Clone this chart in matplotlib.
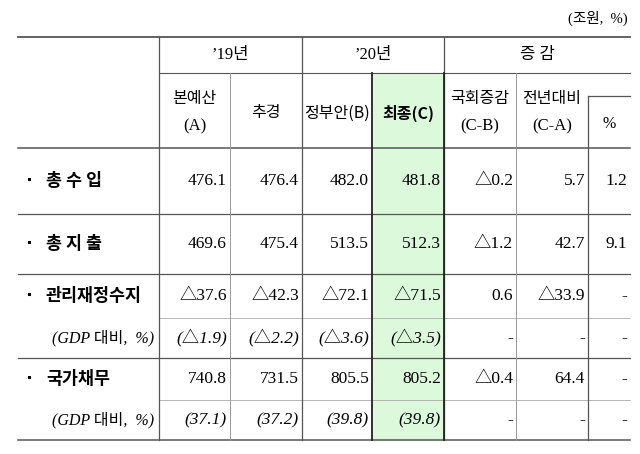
import matplotlib
matplotlib.use("Agg")
import matplotlib.pyplot as plt

row_labels = ["총 수 입", "총 지 출", "관리재정수지", "(GDP 대비,  %)", "국가채무", "(GDP 대비,  %)"]
bold_rows = [True, True, True, False, True, False]
col_headers = [("본예산", "(A)"), ("추경", ""), ("정부안(B)", ""), ("최종(C)", ""),
               ("국회증감", "(C-B)"), ("전년대비", "(C-A)"), ("%", "")]
group_headers = ["’19년", "’20년", "증 감"]
values = [
    ["476.1", "476.4", "482.0", "481.8", "△0.2", "5.7", "1.2"],
    ["469.6", "475.4", "513.5", "512.3", "△1.2", "42.7", "9.1"],
    ["△37.6", "△42.3", "△72.1", "△71.5", "0.6", "△33.9", "-"],
    ["(△1.9)", "(△2.2)", "(△3.6)", "(△3.5)", "-", "-", "-"],
    ["740.8", "731.5", "805.5", "805.2", "△0.4", "64.4", "-"],
    ["(37.1)", "(37.2)", "(39.8)", "(39.8)", "-", "-", "-"],
]
unit = "(조원,  %)"

FAM = ["Liberation Serif", "Noto Sans CJK KR", "DejaVu Sans"]
KFAM = ["Noto Sans CJK KR", "DejaVu Sans"]

fig = plt.figure(figsize=(6.4, 4.54), dpi=100)
ax = fig.add_axes([0, 0, 1, 1])
ax.set_xlim(0, 640); ax.set_ylim(454, 0); ax.axis("off")

xs = [159, 230, 302, 372, 444, 516, 588, 630]
left = 18
top, mid, hb = 37, 73, 148
row_edges = [148, 214, 274, 318, 358, 400, 440]

ax.axvspan(xs[3], xs[4], ymin=1 - row_edges[-1] / 454, ymax=1 - mid / 454, color="#dcfadb", zorder=0)

lc = "#555555"
ax.plot([left, 630], [top, top], color=lc, lw=1.3)
ax.plot([xs[0], 630], [mid, mid], color=lc, lw=0.8)
for i, y in enumerate(row_edges):
    if i in (3, 5):
        ax.plot([xs[0], 630], [y, y], color="#aaaaaa", lw=0.6)
    else:
        ax.plot([left, 630], [y, y], color=lc, lw=1.1 if i in (0, 6) else 0.9)
ax.plot([xs[0], xs[0]], [top, row_edges[-1]], color=lc, lw=0.9)
ax.plot([xs[2], xs[2]], [top, row_edges[-1]], color=lc, lw=0.9)
ax.plot([xs[4], xs[4]], [top, row_edges[-1]], color=lc, lw=0.9)
for x in (xs[1], xs[5]):
    ax.plot([x, x], [mid, row_edges[-1]], color="#999999", lw=0.7)
ax.plot([xs[6], xs[6]], [96, row_edges[-1]], color=lc, lw=0.9)
ax.plot([xs[6], 630], [96, 96], color=lc, lw=0.9)
for x in (xs[3], xs[4]):
    ax.plot([x, x], [mid, row_edges[-1]], color="#222222", lw=1.3)

ax.text(628, 18, unit, ha="right", va="center", fontsize=10.5, family=FAM)

gx = [(xs[0] + xs[2]) / 2, (xs[2] + xs[4]) / 2, (xs[4] + 630) / 2]
for g, x in zip(group_headers, gx):
    ax.text(x, 55, g, ha="center", va="center", fontsize=12, family=FAM)

for j, (a, b) in enumerate(col_headers):
    cx = (xs[j] + xs[j + 1]) / 2
    w = "bold" if j == 3 else "normal"
    if b:
        ax.text(cx, 99, a, ha="center", va="center", fontsize=11.5, family=KFAM)
        ax.text(cx, 126, b, ha="center", va="center", fontsize=12, family=FAM)
    else:
        ax.text(cx, 113 if j != 6 else 124, a, ha="center", va="center", fontsize=11.5,
                family=KFAM if j != 6 else FAM, fontweight=w)

for i, lab in enumerate(row_labels):
    cy = (row_edges[i] + row_edges[i + 1]) / 2
    if bold_rows[i]:
        ax.text(30, cy, "▪", ha="center", va="center", fontsize=8, family=KFAM)
        ax.text(46, cy, lab, ha="left", va="center", fontsize=12.5, fontweight="bold", family=KFAM)
    else:
        ax.text(154, cy, lab, ha="right", va="center", fontsize=11.5, style="italic", family=FAM)
    for j, v in enumerate(values[i]):
        ax.text(xs[j + 1] - 3, cy, v, ha="right", va="center", fontsize=12.5,
                style="italic" if not bold_rows[i] else "normal", family=FAM)

fig.savefig("out.png", dpi=100)
